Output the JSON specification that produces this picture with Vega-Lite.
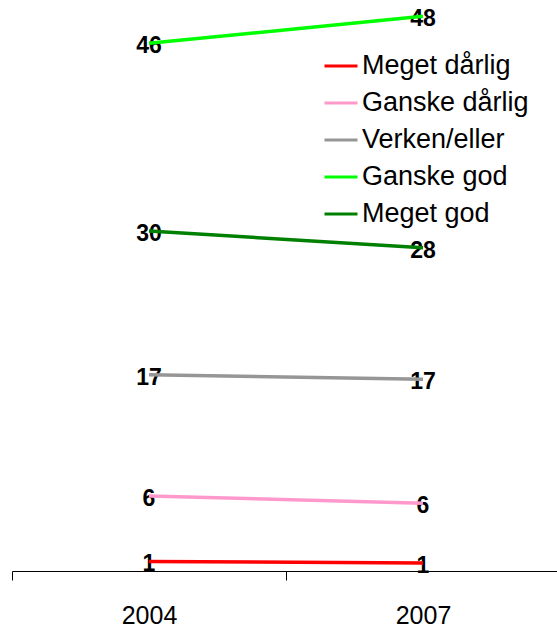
{
  "$schema": "https://vega.github.io/schema/vega-lite/v6.json",
  "width": 548,
  "height": 571,
  "autosize": {"type": "none"},
  "padding": {"left": 12, "top": 0, "right": 0, "bottom": 59},
  "background": "white",
  "config": {
    "view": {"stroke": null},
    "font": "Liberation Sans"
  },
  "data": {
    "values": [
      {"year": "2004", "category": "Meget dårlig", "value": 0.83, "label": "1"},
      {"year": "2007", "category": "Meget dårlig", "value": 0.69, "label": "1"},
      {"year": "2004", "category": "Ganske dårlig", "value": 6.49, "label": "6"},
      {"year": "2007", "category": "Ganske dårlig", "value": 5.86, "label": "6"},
      {"year": "2004", "category": "Verken/eller", "value": 16.98, "label": "17"},
      {"year": "2007", "category": "Verken/eller", "value": 16.6, "label": "17"},
      {"year": "2004", "category": "Ganske god", "value": 45.65, "label": "46"},
      {"year": "2007", "category": "Ganske god", "value": 48.0, "label": "48"},
      {"year": "2004", "category": "Meget god", "value": 29.41, "label": "30"},
      {"year": "2007", "category": "Meget god", "value": 27.97, "label": "28"}
    ]
  },
  "encoding": {
    "x": {
      "field": "year",
      "type": "ordinal",
      "scale": {"paddingInner": 0, "paddingOuter": 0},
      "axis": {
        "title": null,
        "labelAngle": 0,
        "labelFontSize": 25,
        "labelColor": "black",
        "labelPadding": 23,
        "domainColor": "black",
        "domainWidth": 1,
        "tickColor": "black",
        "tickSize": 9,
        "tickWidth": 1,
        "tickBand": "extent",
        "grid": false
      }
    },
    "y": {
      "field": "value",
      "type": "quantitative",
      "scale": {"domain": [0, 49.4], "nice": false, "zero": false},
      "axis": null
    }
  },
  "layer": [
    {
      "mark": {"type": "text", "fontSize": 23, "fontWeight": "bold", "color": "black", "align": "center", "baseline": "middle", "dy": 3},
      "encoding": {"text": {"field": "label"}}
    },
    {
      "mark": {"type": "line", "strokeWidth": 3.5},
      "encoding": {
        "color": {
          "field": "category",
          "type": "nominal",
          "scale": {
            "domain": ["Meget dårlig", "Ganske dårlig", "Verken/eller", "Ganske god", "Meget god"],
            "range": ["#FF0000", "#FF99CC", "#969696", "#00FF00", "#008000"]
          },
          "legend": {
            "title": null,
            "orient": "none",
            "legendX": 311,
            "legendY": 48,
            "padding": 0,
            "symbolType": "stroke",
            "symbolSize": 1089,
            "symbolStrokeWidth": 3,
            "labelFontSize": 27,
            "labelColor": "black",
            "labelOffset": 3,
            "rowPadding": 6,
            "labelLimit": 300
          }
        }
      }
    }
  ]
}
